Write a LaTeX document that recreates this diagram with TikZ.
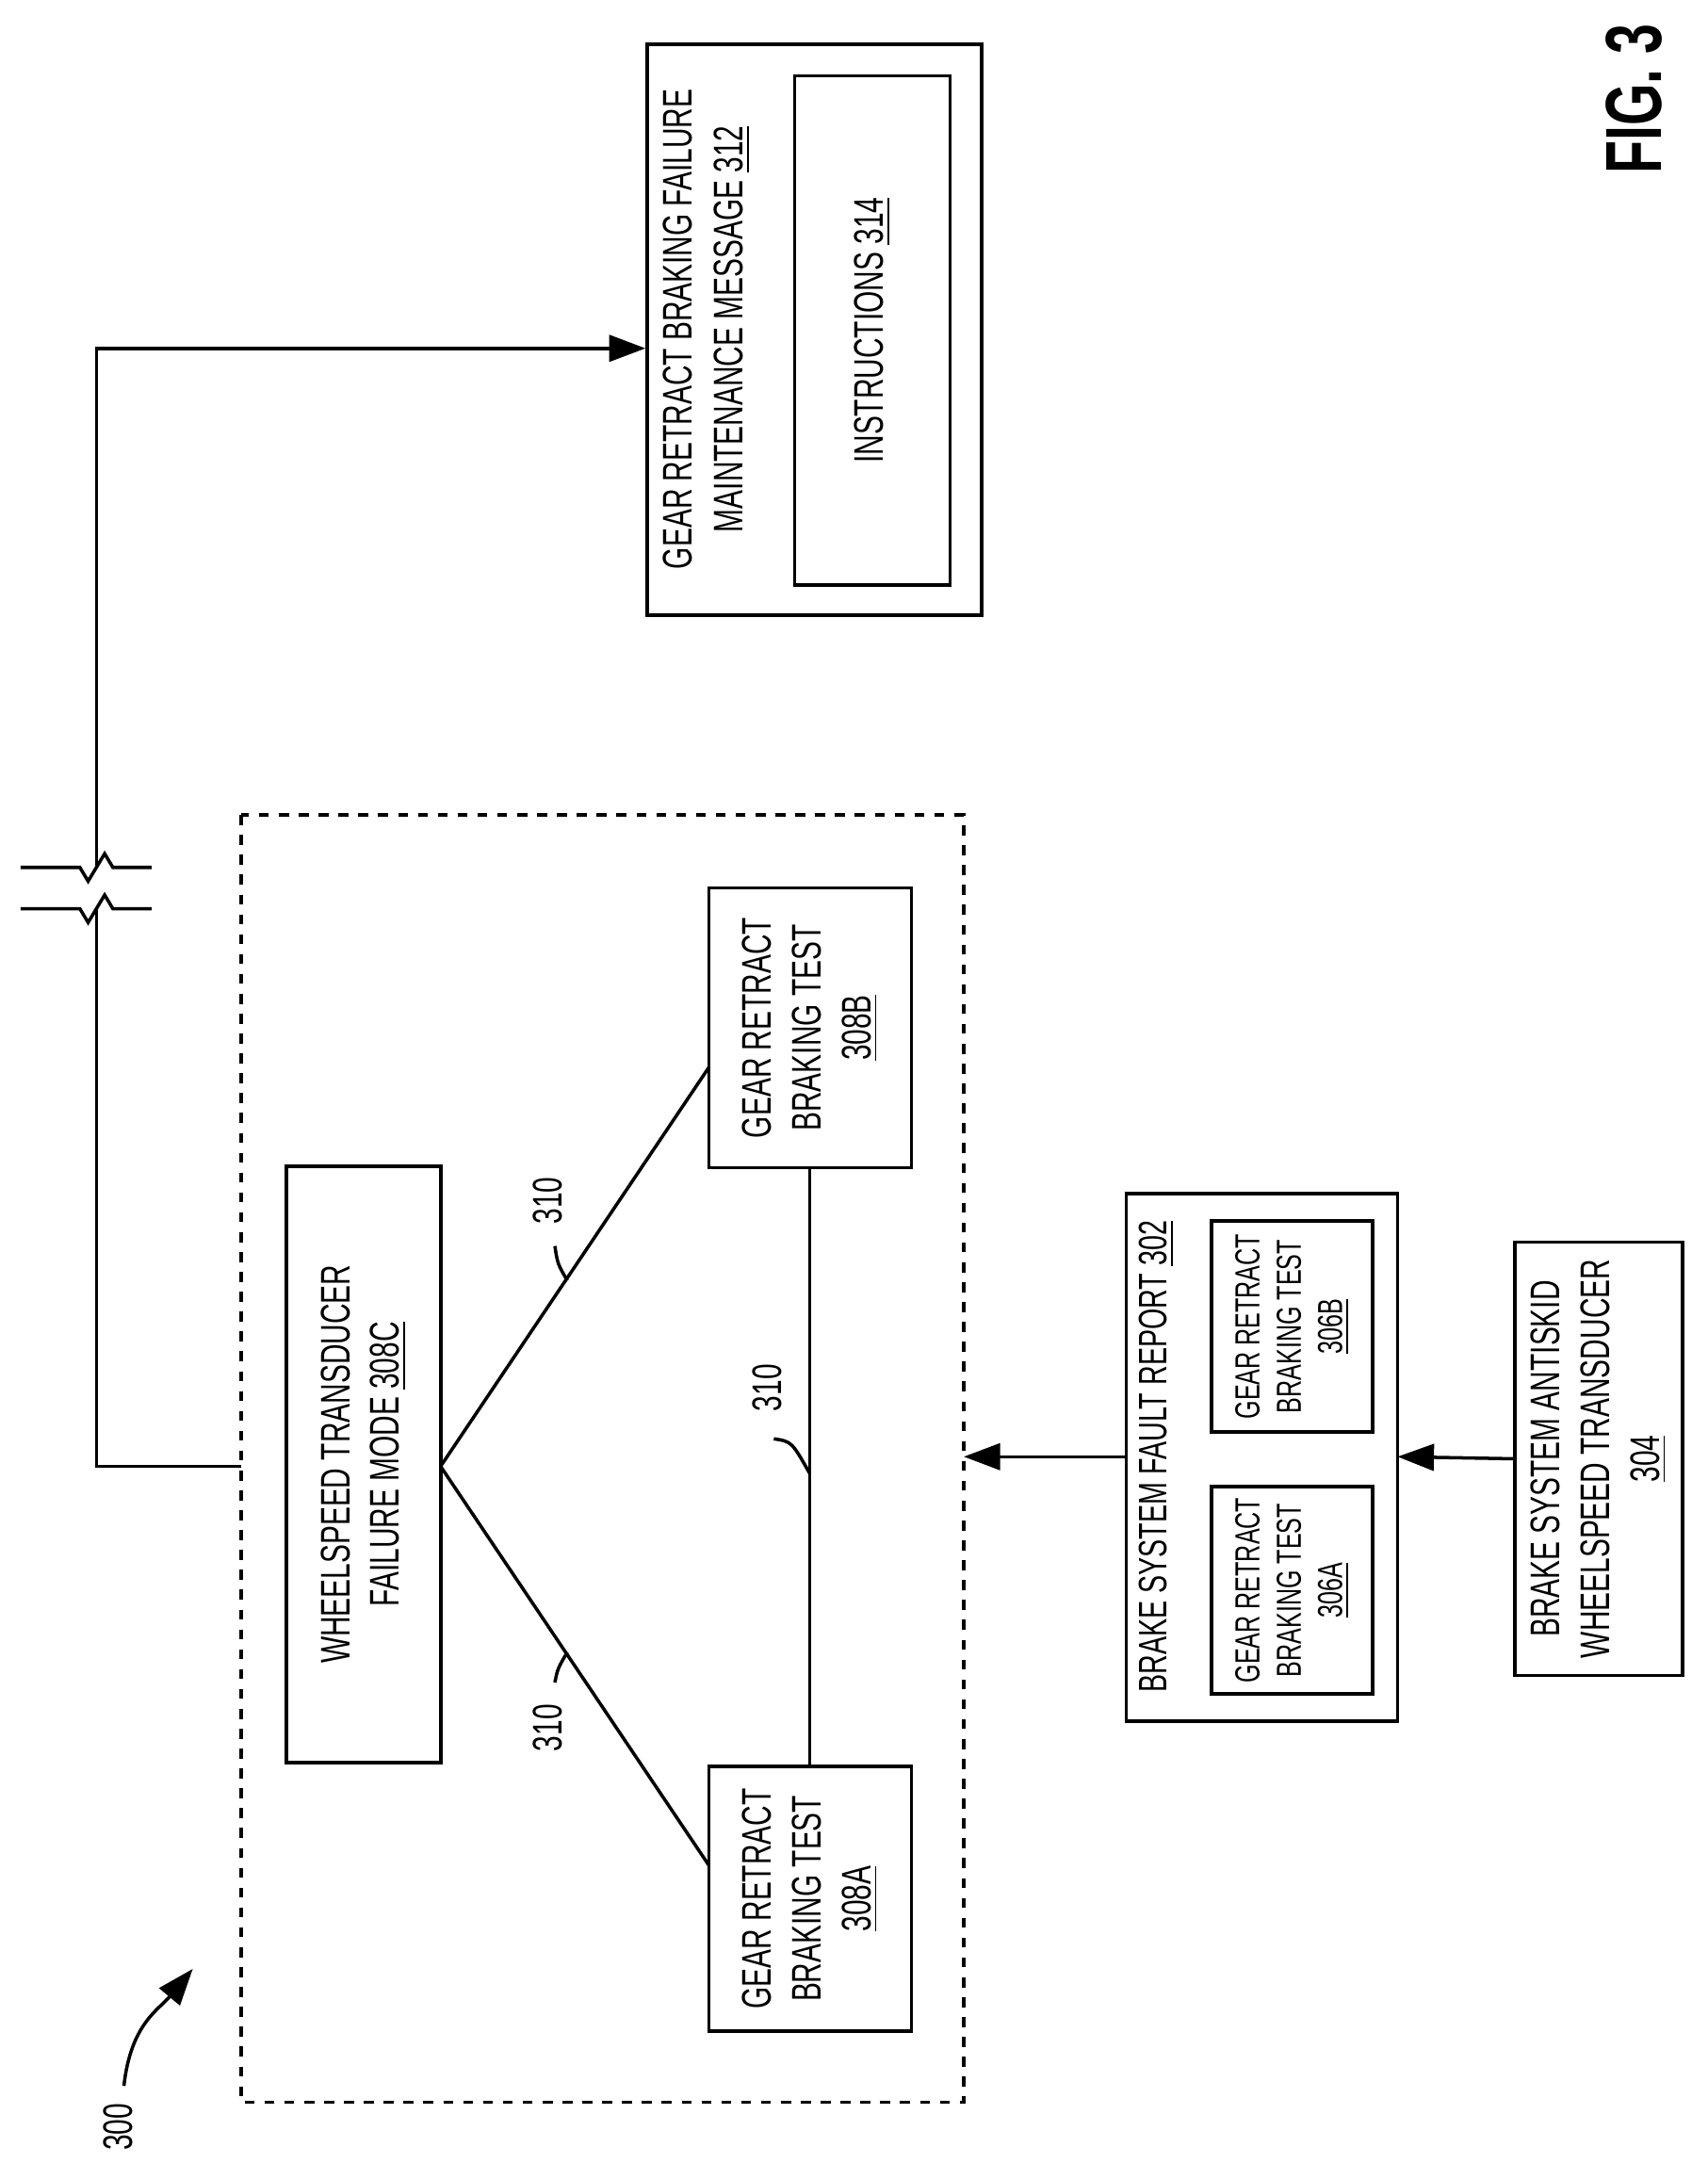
\documentclass[tikz,border=0pt]{standalone}
\usepackage{fontspec}
\setmainfont{Liberation Sans}[FakeStretch=0.68]
\usetikzlibrary{arrows.meta,calc,positioning}
\begin{document}
\begin{tikzpicture}[x=0.014613cm,y=-0.014613cm,line width=1pt,
    box/.style={draw,rotate=90,align=center,font=\fontsize{12.5}{15}\selectfont},
    small/.style={box,font=\fontsize{10.5}{12.5}\selectfont},
    arr/.style={-{Triangle[length=11pt,width=8pt]}}]
\useasboundingbox (0,0) rectangle (1240,1571);

%---------------------------------------------------------------- MESSAGE 312
\node[box,minimum width=6.06cm,minimum height=3.55cm] (msg) at (591.5,239.5) {};
\node[rotate=90,align=center,font=\fontsize{12.5}{15.5}\selectfont] (msgt) at (513,239) {GEAR RETRACT BRAKING FAILURE\\MAINTENANCE MESSAGE \underline{312}};
\node[box,minimum width=5.41cm,minimum height=1.65cm] (instr) at (633.5,240) {INSTRUCTIONS \underline{314}};

%---------------------------------------------------------------- DASHED GROUP
\draw[dashed] (175,592) rectangle (700,1527);
\node[box,minimum width=6.33cm,minimum height=1.64cm] (fm) at (264,1063.5) {WHEELSPEED TRANSDUCER\\FAILURE MODE \underline{308C}};
\node[box,minimum width=2.97cm,minimum height=2.15cm] (tb) at (588.5,746.5) {GEAR RETRACT\\BRAKING TEST\\\underline{308B}};
\node[box,minimum width=2.81cm,minimum height=2.15cm] (ta) at (588.5,1379) {GEAR RETRACT\\BRAKING TEST\\\underline{308A}};

\coordinate (fmR) at (320,1065);
\coordinate (tbL) at (515,775);
\coordinate (taL) at (515,1355);
\draw (fmR) -- (tbL);
\draw (fmR) -- (taL);
\draw (588,848) -- (588,1283);

%---------------------------------------------------------------- LABELS 310
\node[rotate=90,font=\fontsize{12.5}{15}\selectfont] (l1) at (398,872) {310};
\draw (403,905) .. controls (405,918) .. (412,930);
\node[rotate=90,font=\fontsize{12.5}{15}\selectfont] (l2) at (398,1255) {310};
\draw (403,1222) .. controls (405,1212) .. (412,1200);
\node[rotate=90,font=\fontsize{12.5}{15}\selectfont] (l3) at (557,1008) {310};
\draw (562,1045) .. controls (575,1047) .. (588,1070);

%---------------------------------------------------------------- FAULT REPORT 302
\node[box,minimum width=5.60cm,minimum height=2.88cm] (rep) at (916.5,1058.5) {};
\node[rotate=90,font=\fontsize{12}{15}\selectfont] (rept) at (840,1058) {BRAKE SYSTEM FAULT REPORT \underline{302}};
\node[small,minimum width=2.24cm,minimum height=1.71cm] (rb) at (938.5,963.5) {GEAR RETRACT\\BRAKING TEST\\\underline{306B}};
\node[small,minimum width=2.19cm,minimum height=1.71cm] (ra) at (938.5,1155) {GEAR RETRACT\\BRAKING TEST\\\underline{306A}};

\node[box,minimum width=4.60cm,minimum height=1.78cm] (tr) at (1161,1059.5) {BRAKE SYSTEM ANTISKID\\WHEELSPEED TRANSDUCER\\\underline{304}};

%---------------------------------------------------------------- ARROWS
\coordinate (repL) at (818,1058);
\coordinate (repR) at (1015,1058);
\coordinate (grpR) at (700,1058);
\draw[arr] (tr.north) -- (repR);
\draw[arr] (repL) -- (grpR);

\coordinate (grpL) at (175,1065);
\draw[arr] (grpL) -- (70,1065) -- (70,253) -- (msg.north |- 70,253);
% break marks
\draw[white,fill=white] (62,630) rectangle (78,660);
\foreach \yy in {630,660}
  \draw (15,\yy) -- (58,\yy) -- (64,\yy+10) -- (76,\yy-10) -- (82,\yy) -- (110,\yy);

%---------------------------------------------------------------- FIG / 300
\node[rotate=90,font=\fontsize{24}{28}\bfseries] (fig) at (1187,72) {FIG. 3};
\node[rotate=90,font=\fontsize{12.5}{15}\selectfont] (ref) at (86,1545) {300};
\draw[arr] (90,1515) .. controls (95,1470) and (115,1460) .. (140,1430);
\end{tikzpicture}
\end{document}
